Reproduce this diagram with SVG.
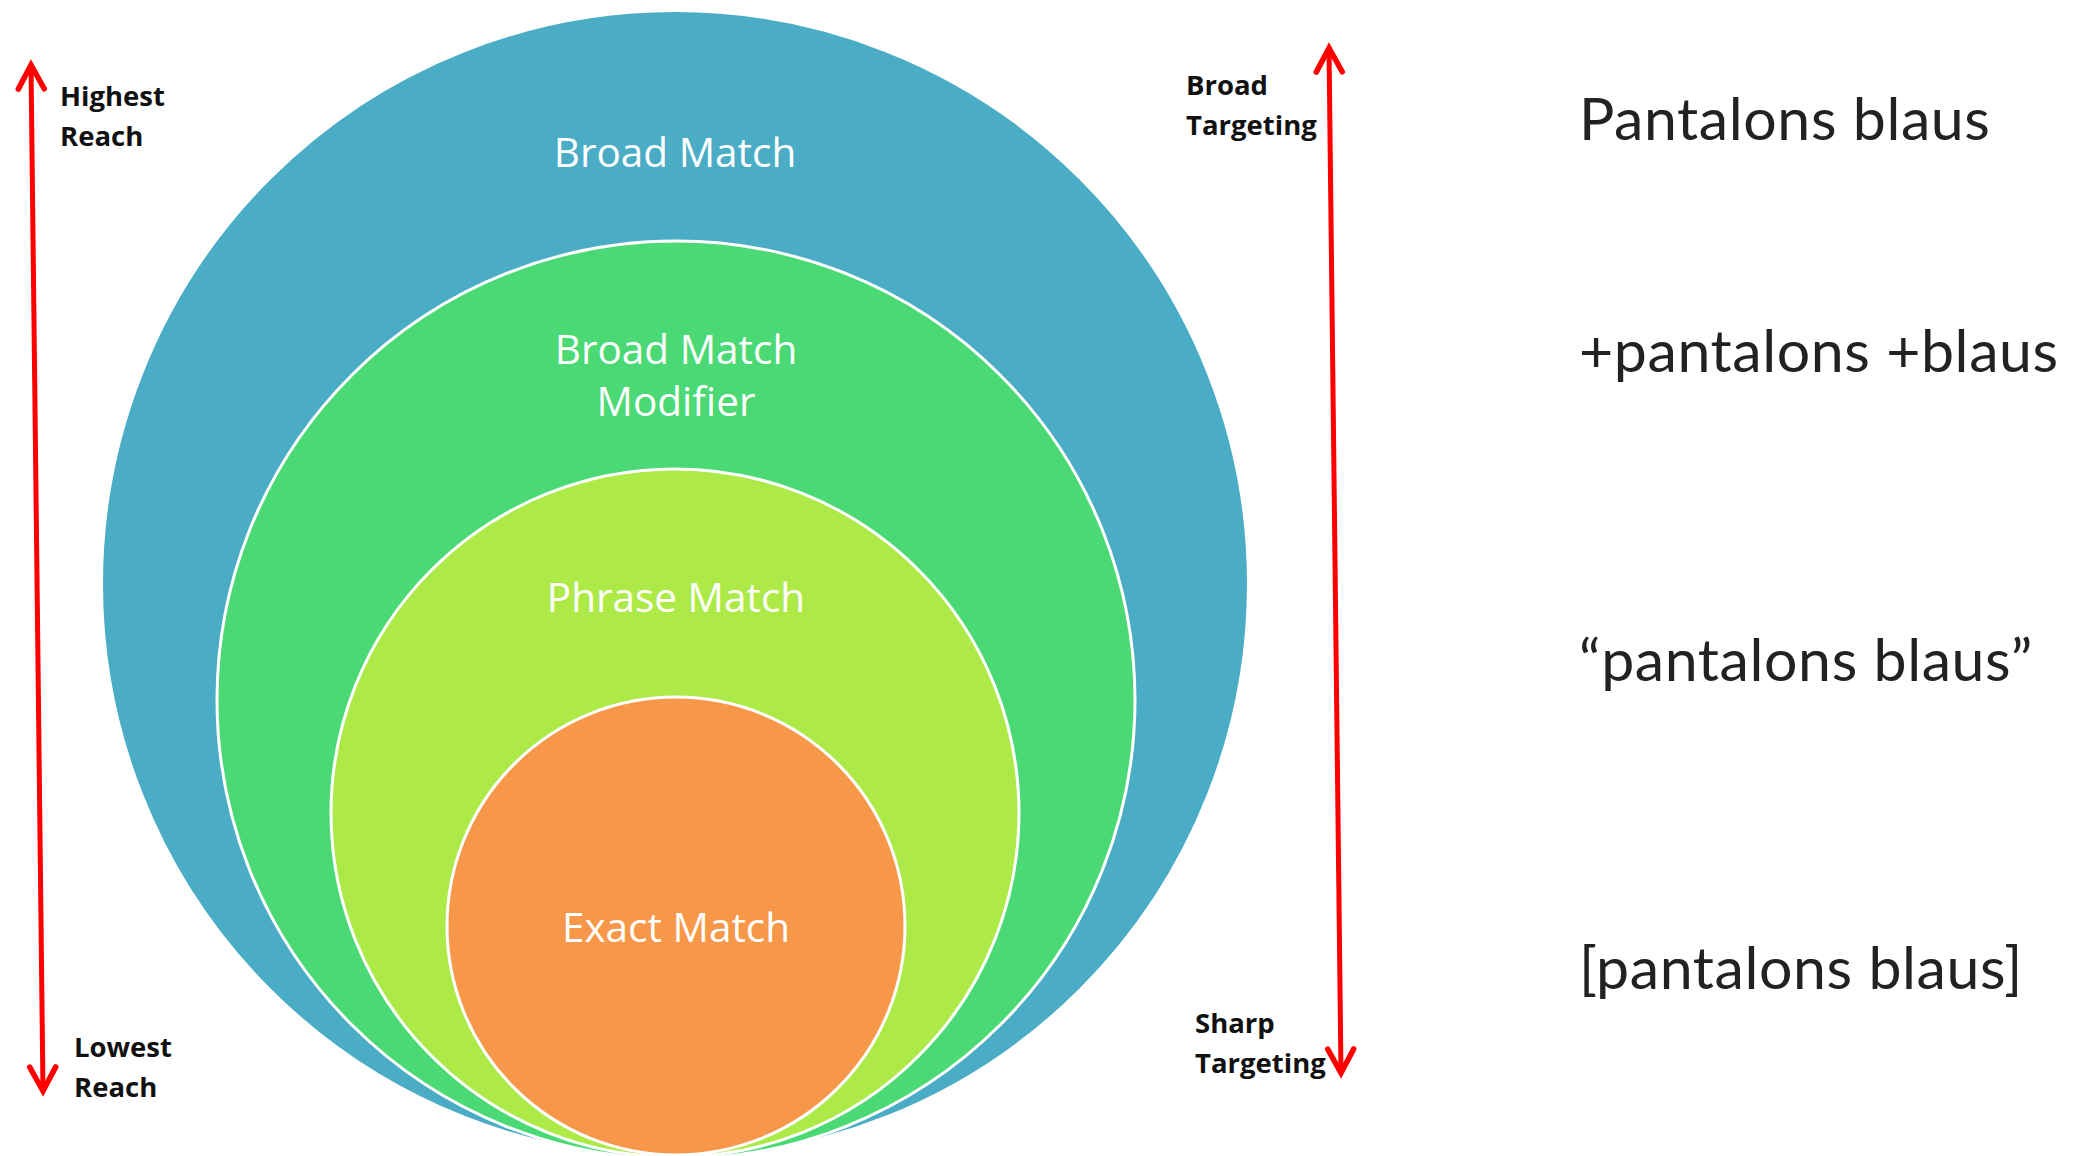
<svg xmlns="http://www.w3.org/2000/svg" width="2075" height="1156" viewBox="0 0 2075 1156">
  <style>
    .ring { stroke: #ffffff; stroke-width: 3; }
    .ring-label { font-family: "Open Sans", "Noto Sans", sans-serif; font-size: 40.5px; fill: #ffffff; text-anchor: middle; }
    .axis-label { font-family: "Open Sans", "Noto Sans", sans-serif; font-weight: 700; font-size: 27.5px; fill: #111111; }
    .keyword { font-family: Lato, "Noto Sans", sans-serif; font-size: 59px; letter-spacing: 0.6px; fill: #222222; }
    .axis { stroke: #ff0000; stroke-width: 5; fill: none; }
  </style>
  <defs>
    <marker id="chevron" markerUnits="userSpaceOnUse" viewBox="-32 -20 40 40" refX="0" refY="0" markerWidth="40" markerHeight="40" orient="auto-start-reverse">
      <path d="M -24 -13 L 0 0 L -24 13" fill="none" stroke="#ff0000" stroke-width="5.5" stroke-linejoin="miter" stroke-linecap="round"/>
    </marker>
  </defs>

  <rect width="2075" height="1156" fill="#ffffff"/>

  <!-- nested match-type circles, widest first -->
  <g id="broad-match">
    <circle cx="675" cy="584" r="573" fill="#4BACC6" stroke="#ffffff" stroke-width="2"/>
    <text class="ring-label" x="675" y="167">Broad Match</text>
  </g>
  <g id="broad-match-modifier">
    <circle class="ring" cx="676" cy="700" r="459" fill="#4AD975"/>
    <text class="ring-label" x="676" y="364">Broad Match</text>
    <text class="ring-label" x="676" y="416">Modifier</text>
  </g>
  <g id="phrase-match">
    <circle class="ring" cx="675" cy="813" r="344" fill="#ADEA48"/>
    <text class="ring-label" x="676" y="612">Phrase Match</text>
  </g>
  <g id="exact-match">
    <circle class="ring" cx="676" cy="926" r="229" fill="#F69749"/>
    <text class="ring-label" x="676" y="942">Exact Match</text>
  </g>

  <!-- reach / targeting scales -->
  <g id="connectors">
    <line class="axis" x1="31" y1="65" x2="43" y2="1091" marker-start="url(#chevron)" marker-end="url(#chevron)"/>
    <line class="axis" x1="1329" y1="48" x2="1341" y2="1073" marker-start="url(#chevron)" marker-end="url(#chevron)"/>
  </g>

  <g id="reach-labels">
    <text class="axis-label" x="60" y="106">Highest</text>
    <text class="axis-label" x="60" y="146">Reach</text>
    <text class="axis-label" x="74" y="1057">Lowest</text>
    <text class="axis-label" x="74" y="1097">Reach</text>
  </g>
  <g id="targeting-labels">
    <text class="axis-label" x="1186" y="95">Broad</text>
    <text class="axis-label" x="1186" y="135">Targeting</text>
    <text class="axis-label" x="1195" y="1033">Sharp</text>
    <text class="axis-label" x="1195" y="1073">Targeting</text>
  </g>

  <!-- example keyword for each match type -->
  <g id="keyword-examples">
    <text class="keyword" x="1579" y="140">Pantalons blaus</text>
    <text class="keyword" x="1579" y="372">+pantalons +blaus</text>
    <text class="keyword" x="1579" y="681">“pantalons blaus”</text>
    <text class="keyword" x="1579" y="989">[pantalons blaus]</text>
  </g>
</svg>
